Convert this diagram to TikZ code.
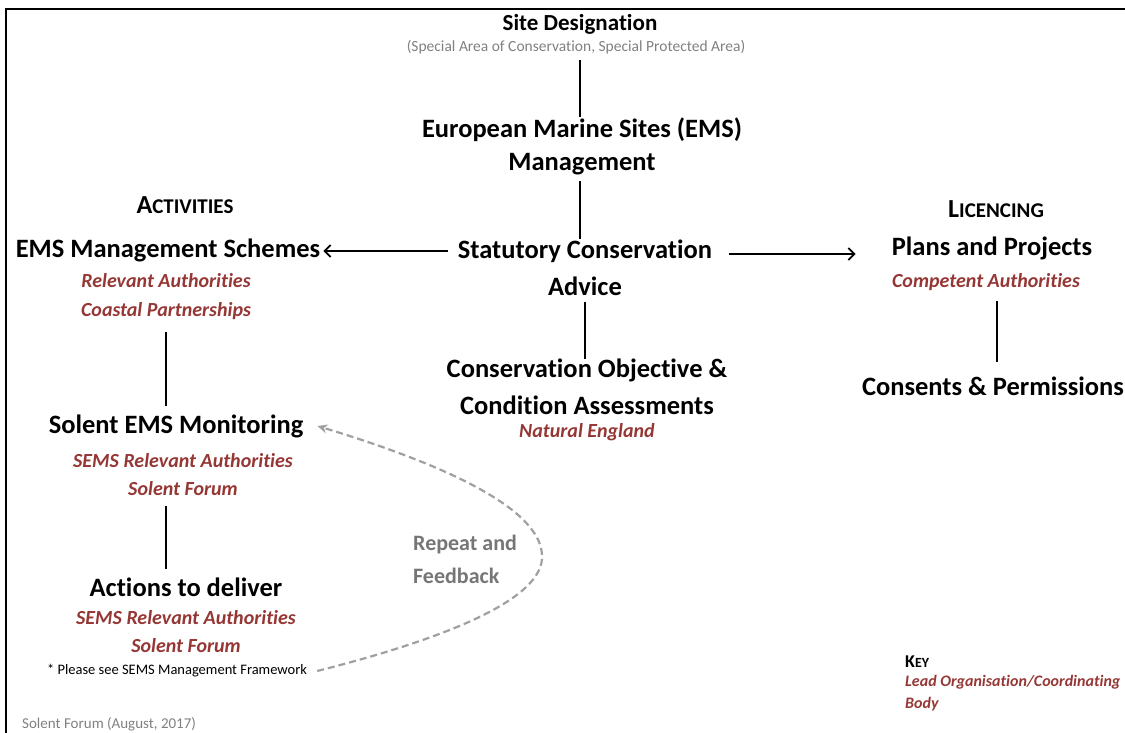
\documentclass[tikz,border=0pt]{standalone}
\usepackage{fontspec}
\setmainfont{Carlito}[Ligatures=NoCommon]
\usetikzlibrary{arrows.meta}
\definecolor{leadred}{RGB}{149,55,53}
\definecolor{subgray}{RGB}{128,128,128}
\definecolor{dashgray}{RGB}{160,160,160}
\definecolor{fbgray}{RGB}{118,118,118}
\begin{document}
\begin{tikzpicture}[x=1pt,y=-1pt,
  head/.style={font=\fontsize{26.5}{35}\selectfont\bfseries, align=center, inner sep=0pt},
  lead/.style={font=\fontsize{20}{29}\selectfont\bfseries\itshape, text=leadred, align=center, inner sep=0pt},
  smcapsbox/.style={font=\bfseries, inner sep=0pt},
  link/.style={line width=2pt},
  flow/.style={line width=1.8pt, -{Straight Barb[length=6pt,width=12pt]}},
  loopback/.style={dashgray, line width=2.2pt, dash pattern=on 7pt off 4pt, -{Stealth[length=10pt,width=9pt]}},
]
\useasboundingbox (0,0) rectangle (1125,733);
\draw[line width=2.4pt] (6,733) -- (6,9) -- (1125,9);

% centre column
\node[head, font=\fontsize{23}{28}\selectfont\bfseries] (site) at (580,24) {Site Designation};
\node[inner sep=0pt, text=subgray, font=\fontsize{15.5}{17}\selectfont] (sitesub) at (576,47) {(Special Area of Conservation, Special Protected Area)};
\node[head, font=\fontsize{26.5}{33}\selectfont\bfseries] (ems) at (582,146) {European Marine Sites (EMS)\\Management};
\node[head] (sca) at (585,251) {Statutory Conservation};
\node[head] (scaadv) at (585,286) {Advice};
\node[head, font=\fontsize{26.5}{37}\selectfont\bfseries] (coa) at (587,387) {Conservation Objective \&\\Condition Assessments};
\node[lead] (ne) at (587,432) {Natural England};

% left column
\node[smcapsbox] (activ) at (185,205) {{\fontsize{26}{26}\selectfont A}{\fontsize{21}{21}\selectfont CTIVITIES}};
\node[head] (mgmt) at (168,250) {EMS Management Schemes};
\node[lead] (mgmtred) at (166,297) {Relevant Authorities\\Coastal Partnerships};
\node[head] (mon) at (176,426) {Solent EMS Monitoring};
\node[lead, font=\fontsize{20}{28}\selectfont\bfseries\itshape] (monred) at (183,475) {SEMS Relevant Authorities\\Solent Forum};
\node[head] (deliver) at (186,587) {Actions to deliver};
\node[lead, font=\fontsize{20}{28}\selectfont\bfseries\itshape] (delred) at (186,632) {SEMS Relevant Authorities\\Solent Forum};
\node[inner sep=0pt, font=\fontsize{14.5}{16}\selectfont] (note) at (177,671) {* Please see SEMS Management Framework};
\node[inner sep=0pt, anchor=west, text=subgray, font=\fontsize{15}{17}\selectfont] (credit) at (22,724) {Solent Forum (August, 2017)};

% right column
\node[smcapsbox] (licen) at (996,209) {{\fontsize{26}{26}\selectfont L}{\fontsize{21}{21}\selectfont ICENCING}};
\node[head] (plans) at (992,248) {Plans and Projects};
\node[lead] (plansred) at (986,282) {Competent Authorities};
\node[head] (consents) at (993,386) {Consents \& Permissions};

% key
\node[smcapsbox, anchor=west] (key) at (905,662) {{\fontsize{18}{18}\selectfont K}{\fontsize{14}{14}\selectfont EY}};
\node[lead, font=\fontsize{16}{22}\selectfont\bfseries\itshape, align=left, anchor=north west] (keytext) at (905,675) {Lead Organisation/Coordinating\\Body};

% feedback label
\node[inner sep=0pt, anchor=west, align=left, text=fbgray, font=\fontsize{22}{33}\selectfont\bfseries] (repeat) at (413,559) {Repeat and\\Feedback};

% connectors
\path (sitesub.south) ++(4,6) coordinate (t1);
\draw[link] (t1) -- (t1 |- ems.north);
\path (ems.south) ++(-2,6) coordinate (t3);
\draw[link] (t3) -- (t3 |- sca.north);
\draw[link] ([yshift=-6pt]scaadv.south) coordinate (t4) -- (t4 |- coa.north);
\draw[flow] ([xshift=-10pt]sca.west) -- ([xshift=3pt]sca.west -| mgmt.east);
\draw[flow] ([xshift=17pt,yshift=-3pt]sca.east) -- ([xshift=-36pt,yshift=-3pt]sca.east -| plans.west);
\draw[link] ([yshift=-12pt]mgmtred.south) coordinate (t5) -- ([yshift=8pt]t5 |- mon.north);
\draw[link] ([yshift=-10pt]monred.south -| mgmtred.south) coordinate (t6) -- ([yshift=8pt]t6 |- deliver.north);
\draw[link] ([yshift=-10pt]plansred.south -| 997,0) coordinate (t7) -- ([yshift=14pt]t7 |- consents.north);

\draw[loopback] ([xshift=10pt]note.east) .. controls (440,640) and (545,600) .. (542,555)
  .. controls (540,505) and (430,460) .. ([xshift=14pt]mon.east);
\end{tikzpicture}
\end{document}
